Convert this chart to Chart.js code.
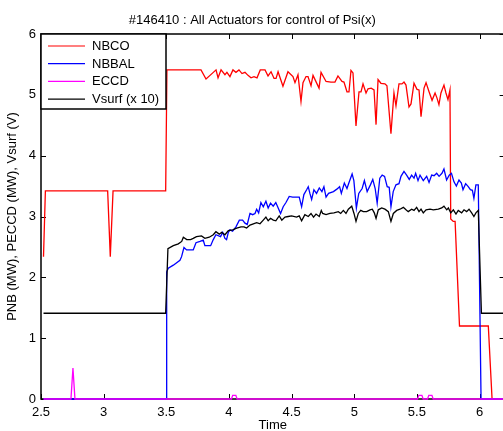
<!DOCTYPE html>
<html>
<head>
<meta charset="utf-8">
<script src="https://cdn.jsdelivr.net/npm/chart.js@4.4.1/dist/chart.umd.min.js"></script>
<style>
html, body { margin: 0; padding: 0; background: #fff; overflow: hidden; }
#wrap { position: relative; width: 510px; height: 431px; }
</style>
</head>
<body>
<div id="wrap"><canvas id="c" width="510" height="431"></canvas></div>
<script>
// values
const seriesNames = ['NBCO', 'NBBAL', 'ECCD', 'Vsurf (x 10)'];
const seriesColors = ['#ff0000', '#0000ff', '#ff00ff', '#000000'];
const xTicks = [2.5, 3, 3.5, 4, 4.5, 5, 5.5, 6];
const yTicks = [0, 1, 2, 3, 4, 5, 6];

const nbcoT = [2.52, 2.535, 3.032, 3.053, 3.075, 3.495, 3.505, 3.777, 3.817, 3.849, 3.897, 3.913, 3.937, 3.968, 3.984,
  4.008, 4.032, 4.056, 4.080, 4.104, 4.128, 4.152, 4.176, 4.200, 4.224, 4.250, 4.288, 4.312, 4.336, 4.360, 4.376,
  4.392, 4.431, 4.471, 4.511, 4.527, 4.551, 4.575, 4.591, 4.615, 4.631, 4.655, 4.671, 4.719, 4.735, 4.775, 4.814,
  4.846, 4.870, 4.902, 4.918, 4.942, 4.958, 4.974, 4.990, 5.014, 5.038, 5.054, 5.070, 5.094, 5.110, 5.135, 5.158,
  5.174, 5.190, 5.213, 5.245, 5.261, 5.293, 5.317, 5.333, 5.357, 5.381, 5.397, 5.413, 5.437, 5.453, 5.477, 5.501,
  5.517, 5.533, 5.557, 5.573, 5.597, 5.621, 5.645, 5.660, 5.676, 5.692, 5.716, 5.732, 5.748, 5.764, 5.770, 5.790,
  5.805, 5.840, 6.070, 6.100, 6.200];
const nbcoV = [2.34, 3.42, 3.42, 2.34, 3.42, 3.42, 5.41, 5.41, 5.26, 5.32, 5.41, 5.28, 5.41, 5.33, 5.37,
  5.30, 5.41, 5.37, 5.41, 5.35, 5.37, 5.32, 5.28, 5.30, 5.28, 5.41, 5.41, 5.31, 5.38, 5.27, 5.27,
  5.38, 5.14, 5.38, 5.30, 5.20, 5.33, 4.89, 5.20, 5.30, 5.30, 5.15, 5.32, 5.11, 5.37, 5.22, 5.21,
  5.21, 5.31, 5.22, 5.21, 5.05, 5.05, 5.40, 5.36, 4.49, 5.05, 5.05, 5.18, 5.03, 5.10, 5.11, 5.08,
  4.51, 5.25, 5.19, 5.18, 5.15, 4.36, 5.03, 4.82, 5.18, 5.18, 5.21, 5.16, 4.80, 4.85, 5.19, 5.09,
  5.08, 4.64, 5.11, 5.20, 5.05, 4.91, 5.03, 4.95, 4.84, 5.03, 5.16, 5.03, 4.92, 5.08, 2.96, 2.92,
  2.92, 1.20, 1.20, 0, 0];

const nbbalT = [2.52, 3.498, 3.503, 3.516, 3.556, 3.609, 3.622, 3.641, 3.662, 3.715, 3.737, 3.769, 3.795, 3.808,
  3.854, 3.875, 3.896, 3.933, 3.950, 3.968, 3.981, 3.995, 4.008, 4.029, 4.056, 4.083, 4.109, 4.128, 4.146, 4.168,
  4.189, 4.208, 4.221, 4.237, 4.255, 4.274, 4.295, 4.313, 4.332, 4.353, 4.374, 4.393, 4.412, 4.433, 4.455, 4.481,
  4.508, 4.535, 4.561, 4.580, 4.598, 4.620, 4.633, 4.646, 4.660, 4.678, 4.699, 4.721, 4.742, 4.758, 4.775, 4.795,
  4.834, 4.861, 4.883, 4.897, 4.921, 4.942, 4.957, 4.983, 4.997, 5.017, 5.036, 5.063, 5.081, 5.103, 5.129, 5.148,
  5.167, 5.183, 5.204, 5.223, 5.242, 5.263, 5.279, 5.293, 5.311, 5.333, 5.357, 5.373, 5.397, 5.418, 5.439, 5.458,
  5.477, 5.490, 5.509, 5.525, 5.551, 5.578, 5.597, 5.618, 5.637, 5.658, 5.677, 5.700, 5.716, 5.737, 5.758, 5.776,
  5.796, 5.815, 5.836, 5.855, 5.868, 5.889, 5.910, 5.927, 5.943, 5.955, 5.971, 5.990, 6.012, 6.200];
const nbbalV = [0, 0, 2.09, 2.15, 2.20, 2.28, 2.34, 2.49, 2.45, 2.45, 2.57, 2.59, 2.61, 2.52,
  2.52, 2.62, 2.70, 2.67, 2.74, 2.64, 2.62, 2.74, 2.78, 2.76, 2.83, 2.94, 2.94, 2.89, 2.87, 3.05,
  3.03, 3.05, 3.12, 3.06, 3.23, 3.16, 3.25, 3.14, 3.22, 3.17, 3.23, 3.14, 3.05, 3.16, 3.23, 3.33,
  3.32, 3.32, 3.32, 3.16, 3.36, 3.44, 3.49, 3.38, 3.28, 3.44, 3.38, 3.47, 3.41, 3.49, 3.32, 3.38,
  3.41, 3.45, 3.49, 3.38, 3.55, 3.46, 3.55, 3.70, 3.59, 3.14, 3.38, 3.46, 3.59, 3.41, 3.52, 3.61,
  3.46, 3.22, 3.63, 3.68, 3.66, 3.49, 3.48, 3.16, 3.41, 3.52, 3.54, 3.66, 3.74, 3.68, 3.61, 3.68,
  3.63, 3.71, 3.59, 3.68, 3.59, 3.66, 3.56, 3.68, 3.67, 3.71, 3.66, 3.71, 3.78, 3.60, 3.68, 3.71,
  3.57, 3.50, 3.60, 3.55, 3.44, 3.54, 3.49, 3.44, 3.43, 3.30, 3.52, 3.52, 0, 0];

const eccdT = [2.52, 2.739, 2.755, 2.771, 4.020, 4.030, 4.055, 4.065, 5.505, 5.515, 5.540, 5.550, 5.585, 5.595,
  5.620, 5.630, 6.200];
const eccdV = [0, 0, 0.51, 0, 0, 0.06, 0.06, 0, 0, 0.06, 0.06, 0, 0, 0.06, 0.06, 0, 0];

const vsurfT = [2.52, 3.495, 3.513, 3.556, 3.596, 3.623, 3.636, 3.663, 3.694, 3.715, 3.741, 3.781, 3.808, 3.843,
  3.875, 3.896, 3.923, 3.942, 3.968, 3.995, 4.030, 4.062, 4.096, 4.120, 4.141, 4.168, 4.195, 4.221, 4.248, 4.274,
  4.295, 4.313, 4.332, 4.354, 4.374, 4.401, 4.422, 4.447, 4.473, 4.500, 4.540, 4.561, 4.580, 4.606, 4.633, 4.655,
  4.675, 4.695, 4.721, 4.737, 4.748, 4.775, 4.806, 4.838, 4.873, 4.892, 4.913, 4.934, 4.953, 4.980, 4.998, 5.014,
  5.032, 5.052, 5.072, 5.099, 5.126, 5.144, 5.160, 5.174, 5.192, 5.219, 5.245, 5.272, 5.293, 5.312, 5.339, 5.365,
  5.392, 5.413, 5.431, 5.458, 5.477, 5.498, 5.517, 5.533, 5.551, 5.573, 5.605, 5.631, 5.671, 5.698, 5.716, 5.738,
  5.751, 5.770, 5.791, 5.812, 5.830, 5.857, 5.876, 5.897, 5.916, 5.937, 5.955, 5.971, 5.990, 6.015, 6.200];
const vsurfV = [1.41, 1.41, 2.47, 2.52, 2.55, 2.59, 2.66, 2.62, 2.62, 2.64, 2.67, 2.68, 2.64, 2.66,
  2.70, 2.75, 2.71, 2.74, 2.70, 2.77, 2.78, 2.81, 2.83, 2.83, 2.81, 2.86, 2.88, 2.90, 2.88, 2.94,
  2.99, 2.93, 2.97, 2.94, 2.93, 3.01, 2.94, 2.99, 3.00, 3.01, 2.99, 3.01, 2.93, 3.03, 3.00, 3.05,
  2.99, 3.04, 3.00, 3.10, 3.05, 3.03, 3.05, 3.06, 3.08, 3.05, 3.10, 3.05, 3.12, 3.17, 3.05, 2.92,
  3.05, 3.10, 3.08, 3.08, 3.11, 3.12, 3.06, 2.97, 3.11, 3.14, 3.12, 3.08, 2.92, 3.05, 3.10, 3.12,
  3.15, 3.11, 3.08, 3.12, 3.10, 3.15, 3.08, 3.12, 3.06, 3.11, 3.12, 3.11, 3.12, 3.14, 3.17, 3.11,
  3.14, 3.06, 3.11, 3.04, 3.10, 3.06, 3.11, 3.08, 3.12, 3.06, 3.00, 3.06, 3.10, 1.41, 1.41];

const FONT = '"Liberation Sans", Arial, Helvetica, sans-serif';
const toXY = (ts, vs) => ts.map((t, i) => ({ x: t, y: vs[i] }));
const allT = [nbcoT, nbbalT, eccdT, vsurfT];
const allV = [nbcoV, nbbalV, eccdV, vsurfV];

// Matlab-style box with inward ticks, drawn under the data; legend on top
const framePlugin = {
  id: 'frame',
  beforeDatasetsDraw(chart) {
    const { ctx, chartArea: a, scales: { x, y } } = chart;
    ctx.save();
    ctx.strokeStyle = '#000';
    ctx.lineWidth = 1.5;
    ctx.beginPath();
    ctx.moveTo(a.right, a.top); ctx.lineTo(a.left, a.top);
    ctx.lineTo(a.left, a.bottom); ctx.lineTo(a.right, a.bottom);
    ctx.lineTo(a.right, a.top);
    ctx.stroke();
    ctx.lineWidth = 1;
    ctx.beginPath();
    xTicks.forEach(v => {
      const px = Math.round(x.getPixelForValue(v)) + 0.5;
      ctx.moveTo(px, a.bottom); ctx.lineTo(px, a.bottom - 5);
      ctx.moveTo(px, a.top); ctx.lineTo(px, a.top + 5);
    });
    yTicks.forEach(v => {
      const py = Math.round(y.getPixelForValue(v)) + 0.5;
      ctx.moveTo(a.left, py); ctx.lineTo(a.left + 5, py);
      ctx.moveTo(a.right, py); ctx.lineTo(a.right - 5, py);
    });
    ctx.stroke();
    ctx.restore();
  },
  afterDatasetsDraw(chart) {
    const { ctx, chartArea: a } = chart;
    ctx.save();
    const lx = a.left, ly = a.top, lw = 125, lh = 75;
    ctx.fillStyle = '#fff';
    ctx.fillRect(lx, ly, lw, lh);
    ctx.strokeStyle = '#000';
    ctx.lineWidth = 1.5;
    ctx.strokeRect(lx, ly, lw, lh);
    ctx.font = '13px ' + FONT;
    ctx.textBaseline = 'middle';
    ctx.textAlign = 'left';
    seriesNames.forEach((name, i) => {
      const yy = ly + 12 + i * 17.7;
      ctx.strokeStyle = seriesColors[i];
      ctx.lineWidth = 1.2;
      ctx.beginPath();
      ctx.moveTo(lx + 7, yy); ctx.lineTo(lx + 44, yy);
      ctx.stroke();
      ctx.fillStyle = '#000';
      ctx.fillText(name, lx + 51, yy + 0.5);
    });
    ctx.restore();
  }
};

new Chart(document.getElementById('c'), {
  type: 'line',
  data: {
    datasets: seriesNames.map((name, i) => ({
      label: name,
      data: toXY(allT[i], allV[i]),
      borderColor: seriesColors[i],
      backgroundColor: seriesColors[i],
      borderWidth: 1.3,
      pointRadius: 0,
      tension: 0,
      clip: false,
      order: 4 - i
    }))
  },
  options: {
    responsive: false,
    animation: false,
    layout: { padding: { right: 5.4, left: 0, bottom: 0 } },
    scales: {
      x: {
        type: 'linear',
        min: 2.5,
        max: 6.2,
        afterBuildTicks: s => { s.ticks = xTicks.map(v => ({ value: v })); },
        afterFit: s => { s.height = 32; },
        grid: { display: false, drawTicks: false },
        border: { display: false },
        ticks: { color: '#000', font: { family: FONT, size: 13 }, padding: 6, maxRotation: 0,
                 callback: v => String(v) },
        title: { display: true, text: 'Time', color: '#000', font: { family: FONT, size: 13 },
                 padding: { top: 0, bottom: -2.5 } }
      },
      y: {
        min: 0,
        max: 6,
        afterBuildTicks: s => { s.ticks = yTicks.map(v => ({ value: v })); },
        afterFit: s => { s.width = 41; },
        grid: { display: false, drawTicks: false },
        border: { display: false },
        ticks: { color: '#000', font: { family: FONT, size: 13 }, padding: 5, callback: v => String(v) },
        title: { display: true, text: 'PNB (MW), PECCD (MW), Vsurf (V)', color: '#000',
                 font: { family: FONT, size: 13 }, padding: { top: 5, bottom: 0 } }
      }
    },
    plugins: {
      legend: { display: false },
      tooltip: { enabled: false },
      title: {
        display: true,
        text: '#146410 : All Actuators for control of Psi(x)',
        color: '#000',
        font: { family: FONT, size: 13, weight: 'normal' },
        padding: { top: 13, bottom: 5.4 }
      }
    }
  },
  plugins: [framePlugin]
});
</script>
</body>
</html>
